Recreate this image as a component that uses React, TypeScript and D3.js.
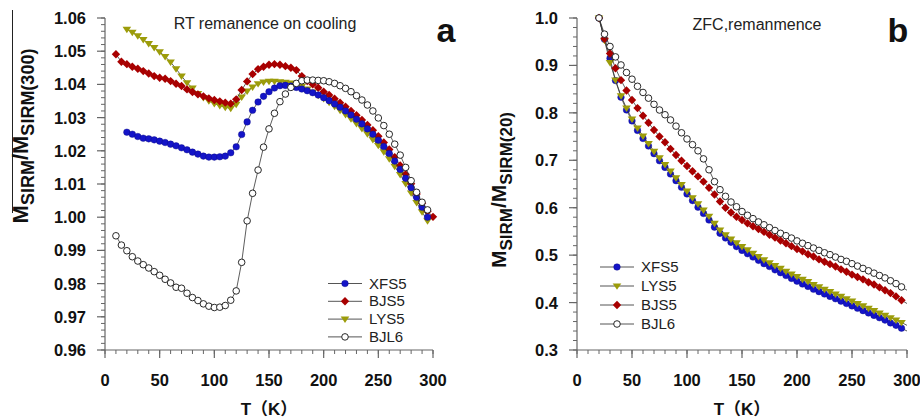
import React from 'react';
import * as d3 from 'd3';

type Pt = [number, number];

// ---------- Panel a: RT remanence on cooling ----------
const xfs5A: Pt[] = [[20,1.0256],[25,1.0250],[30,1.0243],[35,1.0238],[40,1.0236],[45,1.0233],[50,1.0229],[55,1.0225],[60,1.0220],[65,1.0215],[70,1.0209],[75,1.0203],[80,1.0196],[85,1.0190],[90,1.0184],[95,1.0181],[100,1.0181],[105,1.0182],[110,1.0184],[115,1.0194],[120,1.0212],[125,1.0249],[130,1.0287],[135,1.0322],[140,1.0347],[145,1.0364],[150,1.0378],[155,1.0389],[160,1.0396],[165,1.0397],[170,1.0395],[175,1.0391],[180,1.0386],[185,1.0381],[190,1.0375],[195,1.0368],[200,1.0360],[205,1.0351],[210,1.0341],[215,1.0331],[220,1.0320],[225,1.0308],[230,1.0295],[235,1.0281],[240,1.0266],[245,1.0250],[250,1.0232],[255,1.0213],[260,1.0192],[265,1.0169],[270,1.0144],[275,1.0117],[280,1.0089],[285,1.0060],[290,1.0030],[295,1.0000]];
const bjs5A: Pt[] = [[10,1.0491],[15,1.0468],[20,1.0461],[25,1.0453],[30,1.0447],[35,1.0440],[40,1.0433],[45,1.0425],[50,1.0420],[55,1.0417],[60,1.0410],[65,1.0402],[70,1.0395],[75,1.0385],[80,1.0377],[85,1.0370],[90,1.0364],[95,1.0358],[100,1.0353],[105,1.0349],[110,1.0345],[115,1.0342],[120,1.0355],[125,1.0383],[130,1.0409],[135,1.0431],[140,1.0446],[145,1.0453],[150,1.0459],[155,1.0461],[160,1.0459],[165,1.0455],[170,1.0450],[175,1.0443],[180,1.0425],[185,1.0410],[190,1.0400],[195,1.0390],[200,1.0378],[205,1.0368],[210,1.0357],[215,1.0345],[220,1.0333],[225,1.0320],[230,1.0307],[235,1.0293],[240,1.0278],[245,1.0262],[250,1.0244],[255,1.0225],[260,1.0204],[265,1.0181],[270,1.0156],[275,1.0129],[280,1.0101],[285,1.0070],[290,1.0042],[295,1.0018],[300,1.0001]];
const lys5A: Pt[] = [[20,1.0566],[25,1.0557],[30,1.0546],[35,1.0535],[40,1.0523],[45,1.0511],[50,1.0498],[55,1.0484],[60,1.0467],[65,1.0447],[70,1.0425],[75,1.0405],[80,1.0389],[85,1.0372],[90,1.0360],[95,1.0350],[100,1.0342],[105,1.0336],[110,1.0331],[115,1.0328],[120,1.0340],[125,1.0362],[130,1.0380],[135,1.0392],[140,1.0402],[145,1.0407],[150,1.0409],[155,1.0409],[160,1.0408],[165,1.0406],[170,1.0404],[175,1.0400],[180,1.0394],[185,1.0386],[190,1.0377],[195,1.0367],[200,1.0357],[205,1.0346],[210,1.0334],[215,1.0322],[220,1.0309],[225,1.0296],[230,1.0282],[235,1.0267],[240,1.0251],[245,1.0234],[250,1.0216],[255,1.0197],[260,1.0176],[265,1.0153],[270,1.0128],[275,1.0101],[280,1.0073],[285,1.0044],[290,1.0016],[295,0.9989]];
const bjl6A: Pt[] = [[10,0.9944],[15,0.9916],[20,0.9899],[25,0.9881],[30,0.9868],[35,0.9857],[40,0.9847],[45,0.9836],[50,0.9825],[55,0.9813],[60,0.9802],[65,0.9789],[70,0.9786],[75,0.9771],[80,0.9758],[85,0.9749],[90,0.9739],[95,0.9732],[100,0.9728],[105,0.9729],[110,0.9734],[115,0.9750],[120,0.9778],[125,0.9864],[130,0.9989],[135,1.0072],[140,1.0142],[145,1.0211],[150,1.0266],[155,1.0313],[160,1.0348],[165,1.0371],[170,1.0391],[175,1.0403],[180,1.0411],[185,1.0413],[190,1.0413],[195,1.0412],[200,1.0411],[205,1.0408],[210,1.0403],[215,1.0396],[220,1.0388],[225,1.0378],[230,1.0366],[235,1.0353],[240,1.0338],[245,1.0320],[250,1.0299],[255,1.0276],[260,1.0250],[265,1.0220],[270,1.0187],[275,1.0150],[280,1.0110],[285,1.0075],[290,1.0045],[295,1.0022]];

// ---------- Panel b: ZFC remanence ----------
const xfs5B: Pt[] = [[20,1.000],[25,0.955],[30,0.915],[35,0.868],[40,0.833],[45,0.806],[50,0.783],[55,0.763],[60,0.746],[65,0.730],[70,0.714],[75,0.699],[80,0.685],[85,0.671],[90,0.657],[95,0.643],[100,0.629],[105,0.615],[110,0.601],[115,0.588],[120,0.574],[125,0.559],[130,0.546],[135,0.536],[140,0.527],[145,0.518],[150,0.510],[155,0.503],[160,0.496],[165,0.489],[170,0.482],[175,0.476],[180,0.469],[185,0.463],[190,0.457],[195,0.451],[200,0.445],[205,0.439],[210,0.434],[215,0.428],[220,0.423],[225,0.418],[230,0.413],[235,0.408],[240,0.403],[245,0.398],[250,0.393],[255,0.388],[260,0.383],[265,0.378],[270,0.373],[275,0.368],[280,0.363],[285,0.357],[290,0.352],[295,0.346],[300,0.340]];
const lys5B: Pt[] = [[20,1.000],[25,0.953],[30,0.906],[35,0.869],[40,0.836],[45,0.810],[50,0.787],[55,0.768],[60,0.751],[65,0.735],[70,0.719],[75,0.705],[80,0.691],[85,0.677],[90,0.663],[95,0.649],[100,0.635],[105,0.621],[110,0.608],[115,0.595],[120,0.582],[125,0.567],[130,0.553],[135,0.543],[140,0.534],[145,0.526],[150,0.518],[155,0.511],[160,0.504],[165,0.497],[170,0.490],[175,0.484],[180,0.478],[185,0.472],[190,0.466],[195,0.460],[200,0.455],[205,0.449],[210,0.444],[215,0.438],[220,0.433],[225,0.428],[230,0.423],[235,0.418],[240,0.413],[245,0.408],[250,0.403],[255,0.398],[260,0.393],[265,0.388],[270,0.383],[275,0.378],[280,0.373],[285,0.368],[290,0.363],[295,0.358],[300,0.352]];
const bjs5B: Pt[] = [[20,1.000],[25,0.956],[30,0.925],[35,0.894],[40,0.869],[45,0.847],[50,0.827],[55,0.810],[60,0.794],[65,0.779],[70,0.764],[75,0.750],[80,0.738],[85,0.724],[90,0.711],[95,0.699],[100,0.688],[105,0.677],[110,0.666],[115,0.655],[120,0.642],[125,0.628],[130,0.613],[135,0.600],[140,0.590],[145,0.581],[150,0.574],[155,0.567],[160,0.561],[165,0.555],[170,0.549],[175,0.543],[180,0.537],[185,0.531],[190,0.525],[195,0.519],[200,0.513],[205,0.508],[210,0.502],[215,0.497],[220,0.491],[225,0.486],[230,0.481],[235,0.476],[240,0.470],[245,0.465],[250,0.459],[255,0.454],[260,0.449],[265,0.443],[270,0.438],[275,0.432],[280,0.426],[285,0.420],[290,0.413],[295,0.405],[300,0.398]];
const bjl6B: Pt[] = [[20,1.000],[25,0.966],[30,0.940],[35,0.918],[40,0.901],[45,0.885],[50,0.871],[55,0.856],[60,0.843],[65,0.831],[70,0.818],[75,0.806],[80,0.796],[85,0.785],[90,0.772],[95,0.758],[100,0.745],[105,0.733],[110,0.720],[115,0.703],[120,0.680],[125,0.655],[130,0.638],[135,0.624],[140,0.612],[145,0.602],[150,0.592],[155,0.584],[160,0.577],[165,0.570],[170,0.564],[175,0.558],[180,0.552],[185,0.546],[190,0.541],[195,0.536],[200,0.530],[205,0.525],[210,0.520],[215,0.515],[220,0.510],[225,0.505],[230,0.501],[235,0.496],[240,0.491],[245,0.487],[250,0.482],[255,0.477],[260,0.472],[265,0.467],[270,0.462],[275,0.457],[280,0.452],[285,0.446],[290,0.440],[295,0.433],[300,0.426]];

const xTicks = [0, 50, 100, 150, 200, 250, 300];
const yTicksA = [0.96, 0.97, 0.98, 0.99, 1.0, 1.01, 1.02, 1.03, 1.04, 1.05, 1.06];
const yTicksB = [0.3, 0.4, 0.5, 0.6, 0.7, 0.8, 0.9, 1.0];
const legendA = ['XFS5', 'BJS5', 'LYS5', 'BJL6'];
const legendB = ['XFS5', 'LYS5', 'BJS5', 'BJL6'];

const FONT = "'Liberation Sans', Arial, Helvetica, sans-serif";
const AX = '#666';
const LINE = '#333';

type Shape = 'circle' | 'diamond' | 'tri' | 'open';
const STYLE: Record<string, { shape: Shape; color: string }> = {
  XFS5: { shape: 'circle', color: '#1414c8' },
  BJS5: { shape: 'diamond', color: '#a80000' },
  LYS5: { shape: 'tri', color: '#9c9c0a' },
  BJL6: { shape: 'open', color: '#111' },
};

function Marker({ shape, x, y, color }: { shape: Shape; x: number; y: number; color: string }) {
  if (shape === 'circle') return <circle cx={x} cy={y} r={3.3} fill={color} stroke="#0a0a80" strokeWidth={0.4} />;
  if (shape === 'open') return <circle cx={x} cy={y} r={3.3} fill="#fff" stroke="#111" strokeWidth={0.9} />;
  if (shape === 'diamond') {
    const s = 4.2;
    return <path d={`M${x},${y - s}L${x + s},${y}L${x},${y + s}L${x - s},${y}Z`} fill={color} />;
  }
  const s = 4.3;
  return <path d={`M${x - s},${y - s * 0.6}L${x + s},${y - s * 0.6}L${x},${y + s * 0.9}Z`} fill={color} />;
}

function Series({ data, name, x, y, markerMax = 1e9 }: { data: Pt[]; name: string; x: any; y: any; markerMax?: number }) {
  const st = STYLE[name];
  const line = d3.line<Pt>().x((d) => x(d[0])).y((d) => y(d[1]));
  return (
    <g>
      <path d={line(data) || ''} fill="none" stroke={LINE} strokeWidth={0.8} />
      {data.filter((d) => d[0] <= markerMax).map((d, i) => (
        <Marker key={i} shape={st.shape} x={x(d[0])} y={y(d[1])} color={st.color} />
      ))}
    </g>
  );
}

function Axes({ x, y, yTicks, yMinorStep, fmt }: { x: any; y: any; yTicks: number[]; yMinorStep: number; fmt: (v: number) => string }) {
  const [x0, x1] = x.range();
  const [y0, y1] = y.range();
  const xMinor = d3.range(0, 301, 10);
  const [d0, d1] = y.domain();
  const yMinor = d3.range(0, Math.round((d1 - d0) / yMinorStep) + 1).map((i) => d0 + i * yMinorStep);
  return (
    <g>
      <line x1={x0} x2={x1} y1={y0} y2={y0} stroke={AX} strokeWidth={1.2} />
      <line x1={x0} x2={x0} y1={y0} y2={y1} stroke={AX} strokeWidth={1.2} />
      {xMinor.map((t) => (
        <line key={'xm' + t} x1={x(t)} x2={x(t)} y1={y0} y2={y0 + 4} stroke={AX} />
      ))}
      {xTicks.map((t) => (
        <line key={'xM' + t} x1={x(t)} x2={x(t)} y1={y0} y2={y0 + 8} stroke={AX} strokeWidth={1.2} />
      ))}
      {yMinor.map((t, i) => (
        <line key={'ym' + i} x1={x0 - 4} x2={x0} y1={y(t)} y2={y(t)} stroke={AX} />
      ))}
      {yTicks.map((t) => (
        <line key={'yM' + t} x1={x0 - 8} x2={x0} y1={y(t)} y2={y(t)} stroke={AX} strokeWidth={1.2} />
      ))}
      {xTicks.map((t) => (
        <text key={'xl' + t} x={x(t)} y={y0 + 36} textAnchor="middle" fontSize={16.5} fontWeight="bold" fill="#111">
          {t}
        </text>
      ))}
      {yTicks.map((t) => (
        <text key={'yl' + t} x={x0 - 19} y={y(t) + 6} textAnchor="end" fontSize={16.5} fontWeight="bold" fill="#111">
          {fmt(t)}
        </text>
      ))}
    </g>
  );
}

function Legend({ names, x, y0, dy }: { names: string[]; x: number; y0: number; dy: number }) {
  return (
    <g>
      {names.map((n, i) => {
        const yy = y0 + i * dy;
        const st = STYLE[n];
        return (
          <g key={n}>
            <line x1={x} x2={x + 34} y1={yy} y2={yy} stroke="#555" strokeWidth={1} />
            <Marker shape={st.shape} x={x + 17} y={yy} color={st.color} />
            <text x={x + 41} y={yy + 5} fontSize={15} fill="#222">{n}</text>
          </g>
        );
      })}
    </g>
  );
}

export default function App() {
  const xA = d3.scaleLinear().domain([0, 300]).range([105, 433]);
  const yA = d3.scaleLinear().domain([0.96, 1.06]).range([350, 18]);
  const xB = d3.scaleLinear().domain([0, 300]).range([577, 907]);
  const yB = d3.scaleLinear().domain([0.3, 1.0]).range([350, 18]);

  return (
    <svg width={920} height={420} style={{ position: 'absolute', left: 0, top: 0, background: '#fff' }} fontFamily={FONT}>
      <rect width={920} height={420} fill="#fff" />
      {/* Panel a */}
      <Axes x={xA} y={yA} yTicks={yTicksA} yMinorStep={0.002} fmt={(v) => v.toFixed(2)} />
      <Series data={lys5A} name="LYS5" x={xA} y={yA} />
      <Series data={bjs5A} name="BJS5" x={xA} y={yA} />
      <Series data={xfs5A} name="XFS5" x={xA} y={yA} />
      <Series data={bjl6A} name="BJL6" x={xA} y={yA} />
      <Legend names={legendA} x={328} y0={283.5} dy={17.8} />
      <text x={265} y={29} textAnchor="middle" fontSize={16} fill="#222">RT remanence on cooling</text>
      <text x={446} y={42} textAnchor="middle" fontSize={34} fontWeight="bold" fill="#111">a</text>
      <text x={269} y={415} textAnchor="middle" fontSize={17} fontWeight="bold" fill="#111" fontFamily={"'Liberation Sans', 'Noto Sans CJK SC', sans-serif"}>T（K）</text>
      <line x1={12.5} x2={12.5} y1={10} y2={213} stroke="#222" strokeWidth={1} />
      <text transform="translate(28,136) rotate(-90)" textAnchor="middle" fontSize={22} fontWeight="bold" fill="#111">
        <tspan>M</tspan>
        <tspan fontSize={18} dy={6}>SIRM</tspan>
        <tspan dy={-6}>/M</tspan>
        <tspan fontSize={18} dy={6}>SIRM(300)</tspan>
      </text>

      {/* Panel b */}
      <Axes x={xB} y={yB} yTicks={yTicksB} yMinorStep={0.02} fmt={(v) => v.toFixed(1)} />
      <Series data={xfs5B} name="XFS5" x={xB} y={yB} markerMax={295} />
      <Series data={lys5B} name="LYS5" x={xB} y={yB} markerMax={295} />
      <Series data={bjs5B} name="BJS5" x={xB} y={yB} markerMax={295} />
      <Series data={bjl6B} name="BJL6" x={xB} y={yB} markerMax={295} />
      <Legend names={legendB} x={600} y0={267} dy={19} />
      <text x={757} y={30} textAnchor="middle" fontSize={16} fill="#222">ZFC,remanmence</text>
      <text x={898} y={42} textAnchor="middle" fontSize={34} fontWeight="bold" fill="#111">b</text>
      <text x={742} y={415} textAnchor="middle" fontSize={17} fontWeight="bold" fill="#111" fontFamily={"'Liberation Sans', 'Noto Sans CJK SC', sans-serif"}>T（K）</text>
      <text transform="translate(506,190) rotate(-90)" textAnchor="middle" fontSize={21} fontWeight="bold" fill="#111">
        <tspan>M</tspan>
        <tspan fontSize={17} dy={6}>SIRM</tspan>
        <tspan dy={-6}>/M</tspan>
        <tspan fontSize={17} dy={6}>SIRM(20)</tspan>
      </text>
    </svg>
  );
}
